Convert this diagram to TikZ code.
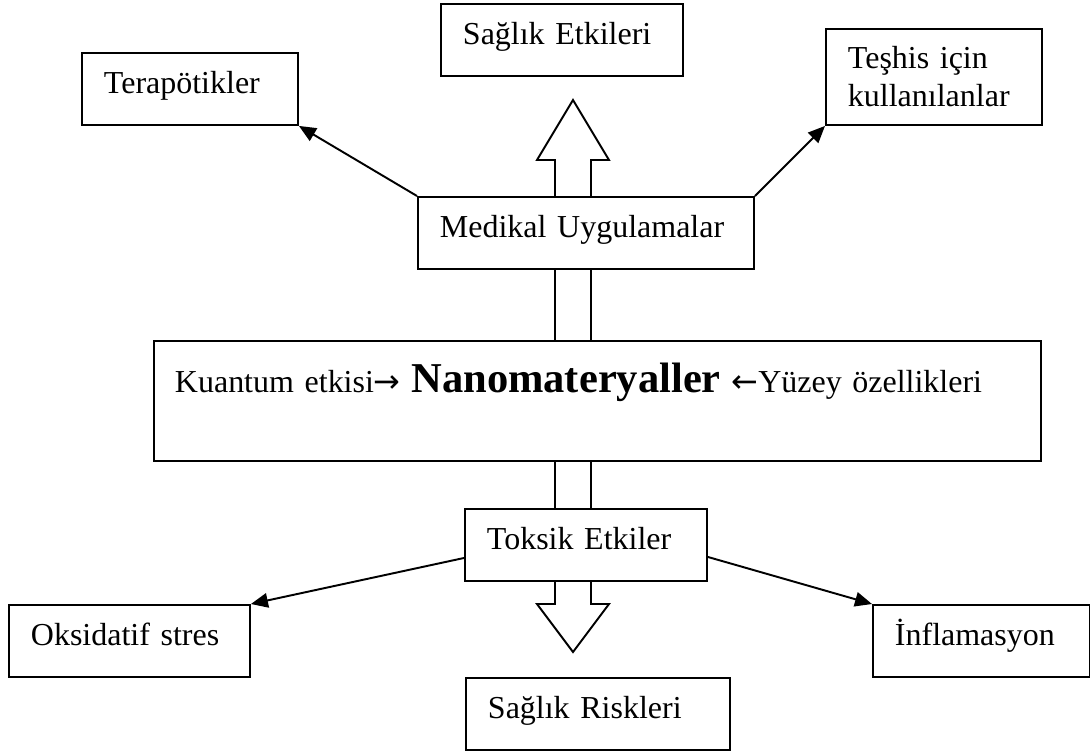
\documentclass[tikz,border=0pt]{standalone}
\usepackage{fontspec}
\setmainfont{Liberation Serif}
\newfontfamily\okfont{DejaVu Sans}
\usepackage{tikz}
\usetikzlibrary{arrows.meta,calc,positioning}

\begin{document}
\begin{tikzpicture}[line width=1.1pt,
    kutu/.style={draw,fill=white,anchor=north west,align=left,
      inner xsep=0.44cm,inner ysep=0pt,text height=0.81cm,text depth=0.63cm},
    ok/.style={-{Triangle[length=0.34cm,width=0.29cm]}},
    blok/.style={draw,fill=white,line join=miter},
    font=\fontsize{18.2pt}{21.5pt}\selectfont]
  \useasboundingbox (0,0) rectangle (21.8,-15.06);

  % block arrows, drawn first so the boxes sit on top of them
  \draw[blok] (11.10,-6.80) -- (11.10,-3.20) -- (10.74,-3.20) -- (11.46,-2.00)
     -- (12.18,-3.20) -- (11.82,-3.20) -- (11.82,-6.80);
  \draw[blok] (11.10,-9.20) -- (11.10,-12.08) -- (10.74,-12.08) -- (11.46,-13.04)
     -- (12.18,-12.08) -- (11.82,-12.08) -- (11.82,-9.20);

  % boxes
  \node[kutu,text width=3.44cm] (ter) at (1.62,-1.04) {Terapötikler};
  \node[kutu,text width=3.96cm] (etki) at (8.80,-0.06) {Sağlık Etkileri};
  \node[kutu,text width=3.44cm,text height=0.80cm,text depth=1.12cm] (teshis) at (16.50,-0.56)
     {Teşhis için\\kullanılanlar};
  \node[kutu,text width=5.84cm] (medikal) at (8.34,-3.92) {Medikal Uygulamalar};
  \node[kutu,text width=16.90cm,inner xsep=0.42cm,text height=1.04cm,text depth=1.36cm] (nano) at (3.06,-6.80)
     {Kuantum etkisi{\okfont →} {\bfseries\fontsize{24.2pt}{28pt}\selectfont Nanomateryaller} {\okfont ←}Yüzey özellikleri};
  \node[kutu,text width=3.96cm] (toksik) at (9.28,-10.16) {Toksik Etkiler};
  \node[kutu,text width=3.94cm] (oks) at (0.16,-12.08) {Oksidatif stres};
  \node[kutu,text width=4.40cm] (risk) at (9.30,-13.54) {Sağlık Riskleri};
  \node[kutu,text width=3.46cm] (inf) at (17.44,-12.08) {İnflamasyon};

  % connectors
  \draw[ok] (medikal.north west) -- (ter.south east);
  \draw[ok] (medikal.north east) -- (teshis.south west);
  \draw[ok] ([yshift=-0.26cm]toksik.west) -- (oks.north east);
  \draw[ok] ([yshift=-0.24cm]toksik.east) -- (inf.north west);
\end{tikzpicture}
\end{document}
